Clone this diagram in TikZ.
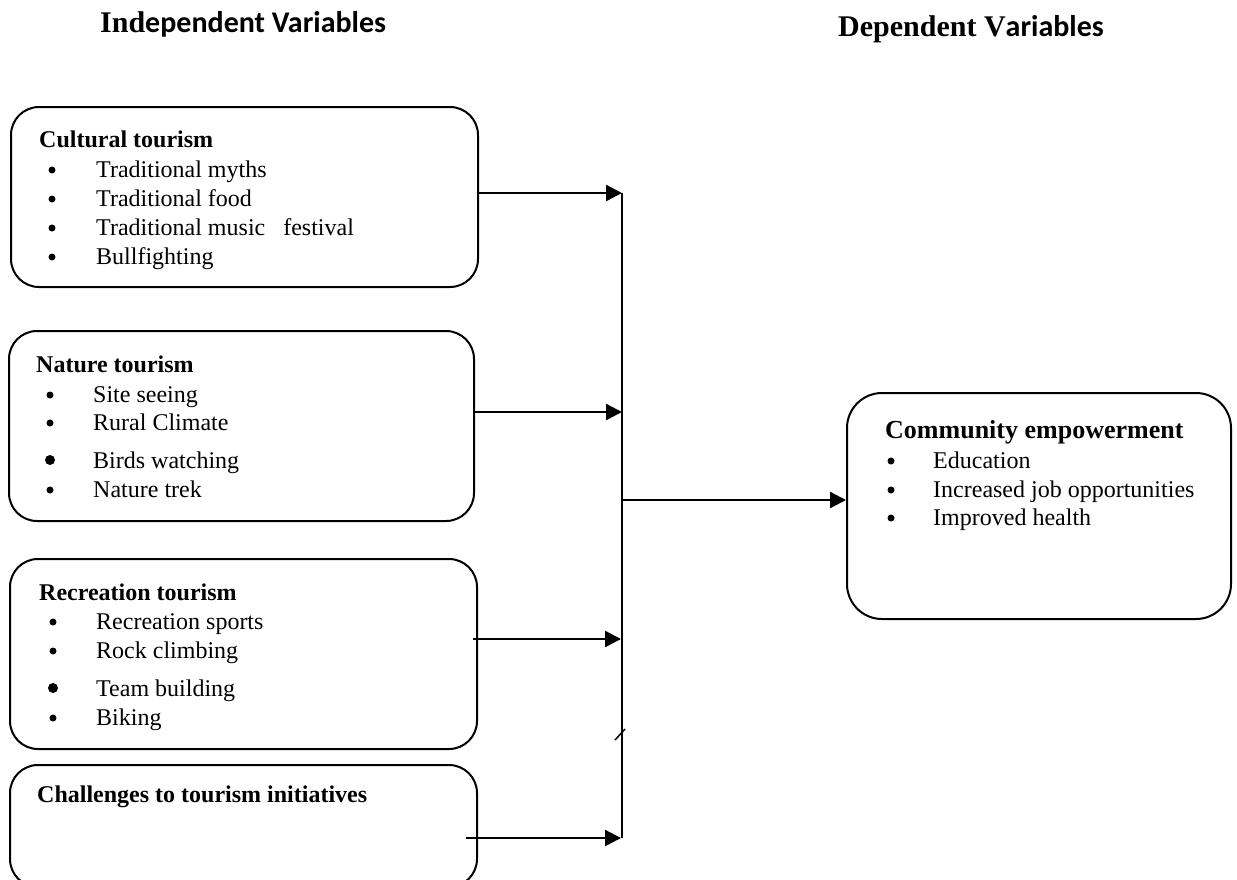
\documentclass[tikz,border=0pt]{standalone}
\usepackage{fontspec}
\setmainfont{Liberation Serif}
\newfontfamily\calfont{Carlito}
\usetikzlibrary{arrows.meta}
\begin{document}
\begin{tikzpicture}[x=1pt,y=-1pt,
 box/.style={draw, line width=2pt, rounded corners=28pt, anchor=north west, inner sep=0pt},
 ttl/.style={anchor=base west, inner sep=0pt, font=\fontsize{24}{24}\selectfont\bfseries},
 itm/.style={anchor=base west, inner sep=0pt, font=\fontsize{24}{24}\selectfont},
 bul/.style={circle, fill, inner sep=0pt, minimum size=7pt},
 bigbul/.style={circle, fill, inner sep=0pt, minimum size=10pt},
 hdr/.style={anchor=base west, inner sep=0pt, font=\fontsize{30}{30}\selectfont\bfseries},
 arr/.style={line width=2.4pt, -{Triangle[length=16pt,width=16pt]}},
 bus/.style={line width=2pt},
]
\useasboundingbox (0,0) rectangle (1237,879);
% headers
\node[hdr] (hind) at (100,32) {Ind{\calfont ependent Variables}};
\node[hdr] (hdep) at (838,36) {Dependent V{\calfont ariables}};
% boxes
\node[box, minimum width=467pt, minimum height=180pt] (cul) at (10,106) {};
\node[box, minimum width=465pt, minimum height=190pt] (nat) at (8,330) {};
\node[box, minimum width=467pt, minimum height=190pt] (rec) at (9,558) {};
\node[box, minimum width=467pt, minimum height=122pt] (cha) at (9,764) {};
\node[box, rounded corners=35pt, minimum width=384pt, minimum height=226pt] (com) at (846,392) {};
% cultural
\node[ttl] (culT) at (39,147) {Cultural tourism};
\node[bul] (cb1) at (52,170) {}; \node[itm] (ci1) at (96,177) {Traditional myths};
\node[bul] (cb2) at (52,199) {}; \node[itm] (ci2) at (96,206) {Traditional food};
\node[bul] (cb3) at (52,228) {}; \node[itm] (ci3) at (96,235) {Traditional music\hspace{0.75em}festival};
\node[bul] (cb4) at (52,257) {}; \node[itm] (ci4) at (96,264) {Bullfighting};
% nature
\node[ttl] (natT) at (36,372) {Nature tourism};
\node[bul] (nb1) at (50,395) {}; \node[itm] (ni1) at (93,402) {Site seeing};
\node[bul] (nb2) at (50,423) {}; \node[itm] (ni2) at (93,430) {Rural Climate};
\node[bigbul] (nb3) at (50,460) {}; \node[itm] (ni3) at (93,468) {Birds watching};
\node[bul] (nb4) at (50,490) {}; \node[itm] (ni4) at (93,497) {Nature trek};
% recreation
\node[ttl] (recT) at (39,600) {Recreation tourism};
\node[bul] (rb1) at (53,622) {}; \node[itm] (ri1) at (96,629) {Recreation sports};
\node[bul] (rb2) at (53,651) {}; \node[itm] (ri2) at (96,658) {Rock climbing};
\node[bigbul] (rb3) at (53,688) {}; \node[itm] (ri3) at (96,696) {Team building};
\node[bul] (rb4) at (53,718) {}; \node[itm] (ri4) at (96,725) {Biking};
% challenges
\node[ttl] (chaT) at (37,802) {Challenges to tourism initiatives};
% community
\node[ttl, font=\fontsize{26}{26}\selectfont\bfseries] (comT) at (885,438) {Community empowerment};
\node[bul] (mb1) at (891,461) {}; \node[itm] (mi1) at (933,468) {Education};
\node[bul] (mb2) at (891,490) {}; \node[itm] (mi2) at (933,497) {Increased job opportunities};
\node[bul] (mb3) at (891,518) {}; \node[itm] (mi3) at (933,525) {Improved health};
% connectors
\coordinate (j1) at (622,193);
\coordinate (j2) at (622,412);
\coordinate (j3) at (621,639);
\coordinate (j4) at (621,838);
\coordinate (jm) at (622,500);
\coordinate (s3) at (473,639);
\coordinate (s4) at (466,838);
\coordinate (tickA) at (615,740);
\coordinate (tickB) at (625,729);
\draw[bus] (622,193) -- (622,838);
\draw[arr] (cul.east |- j1) -- (j1);
\draw[arr] (nat.east |- j2) -- (j2);
\draw[arr] (s3) -- (j3);
\draw[arr] (s4) -- (j4);
\draw[arr] (jm) -- (com.west |- jm);
\draw[line width=1.5pt] (tickA) -- (tickB);
\end{tikzpicture}
\end{document}
